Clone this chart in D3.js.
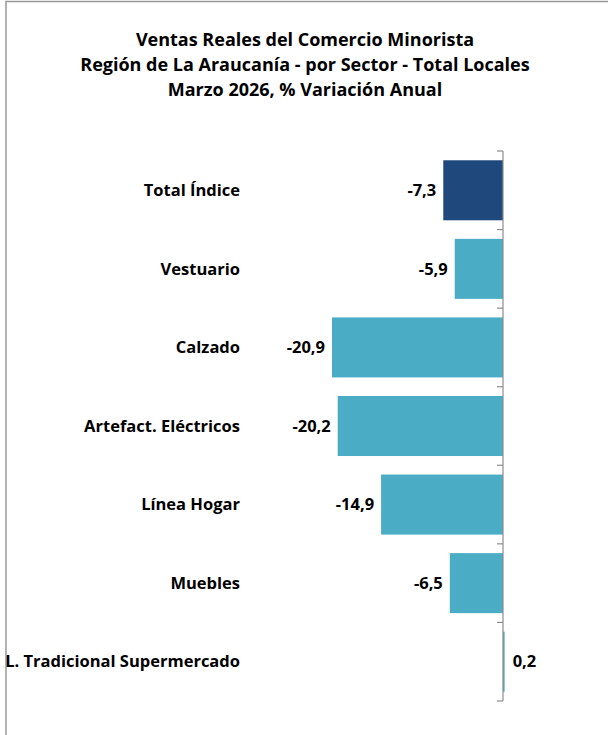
<!DOCTYPE html>
<html><head><meta charset="utf-8">
<script src="https://cdn.jsdelivr.net/npm/d3@7"></script>
<style>body{margin:0;background:#fff}svg{display:block}</style>
</head><body>
<script>
const categories = ["Total Índice","Vestuario","Calzado","Artefact. Eléctricos","Línea Hogar","Muebles","L. Tradicional Supermercado"];
const values = [-7.3,-5.9,-20.9,-20.2,-14.9,-6.5,0.2];
const titleLines = ["Ventas Reales del Comercio Minorista","Región de La Araucanía - por Sector - Total Locales","Marzo 2026, % Variación Anual"];
const colors = ["#1F497D","#4BACC6"];

const W=608,H=735;
const font="'Open Sans', sans-serif";
const svg=d3.select("body").append("svg").attr("width",W).attr("height",H);
svg.append("rect").attr("x",6).attr("y",1.5).attr("width",W+10).attr("height",H+10).attr("fill","#fff").attr("stroke","#999").attr("stroke-width",1.5);

svg.append("g").selectAll("text").data(titleLines).join("text")
  .attr("x",305).attr("y",(d,i)=>46+i*25).attr("text-anchor","middle")
  .attr("font-family",font).attr("font-weight","bold").attr("font-size",18).attr("fill","#000").text(d=>d);

const x=d3.scaleLinear().domain([-20.9,0]).range([332,503]);
const y=d3.scaleBand().domain(categories).range([151,701]).paddingInner(0.236).paddingOuter(0.118);

svg.append("g").selectAll("rect").data(values).join("rect")
  .attr("x",d=>Math.min(x(d),x(0))).attr("width",d=>Math.abs(x(d)-x(0)))
  .attr("y",(d,i)=>y(categories[i])).attr("height",y.bandwidth())
  .attr("fill",(d,i)=>i===0?colors[0]:colors[1]);

const bounds=d3.range(categories.length+1).map(i=>151+i*y.step());
const ax=svg.append("g");
ax.append("line").attr("x1",x(0)).attr("x2",x(0)).attr("y1",151).attr("y2",701).attr("stroke","#8c8c8c").attr("stroke-width",1.2);
ax.selectAll("line.t").data(bounds).join("line").attr("class","t")
  .attr("x1",x(0)-6).attr("x2",x(0)).attr("y1",d=>d).attr("y2",d=>d).attr("stroke","#8c8c8c").attr("stroke-width",1.2);

const fmt=v=>d3.format(".1f")(v).replace("−","-").replace(".",",");
svg.append("g").selectAll("text").data(values).join("text")
  .attr("x",d=>d<0?x(d)-7:x(d)+8).attr("text-anchor",d=>d<0?"end":"start")
  .attr("y",(d,i)=>y(categories[i])+y.bandwidth()/2).attr("dy","0.35em")
  .attr("font-family",font).attr("font-weight","bold").attr("font-size",16.5).text(fmt);

svg.append("g").selectAll("text").data(categories).join("text")
  .attr("x",240).attr("text-anchor","end")
  .attr("y",d=>y(d)+y.bandwidth()/2).attr("dy","0.35em")
  .attr("font-family",font).attr("font-weight","bold").attr("font-size",16.5).text(d=>d);
</script>
</body></html>
